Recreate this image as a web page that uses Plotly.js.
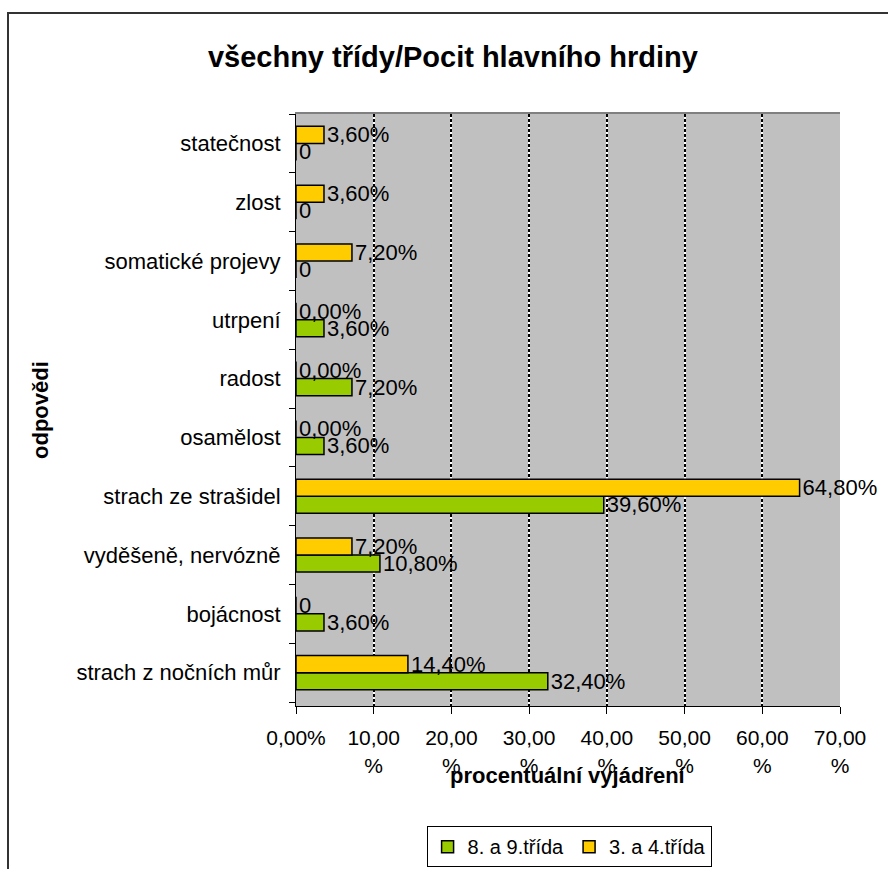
<!DOCTYPE html>
<html>
<head>
<meta charset="utf-8">
<script src="https://cdn.plot.ly/plotly-3.0.1.min.js"></script>
<style>
html,body{margin:0;padding:0;background:#fff;}
#frame{position:absolute;left:7px;top:12px;width:1000px;height:1000px;border-left:2px solid #333;border-top:2px solid #333;box-sizing:border-box;}
#chart{position:absolute;left:0;top:0;width:888px;height:869px;}
</style>
</head>
<body>
<div id="frame"></div>
<div id="chart"></div>
<script>
// categories listed from bottom to top (as in the source spreadsheet)
var categories = ["strach z nočních můr", "bojácnost", "vyděšeně, nervózně", "strach ze strašidel", "osamělost", "radost", "utrpení", "somatické projevy", "zlost", "statečnost"];
var seriesNames = ["8. a 9.třída", "3. a 4.třída"];
var valuesOlder = [32.4, 3.6, 10.8, 39.6, 3.6, 7.2, 3.6, 0, 0, 0];
var valuesYounger = [14.4, 0, 7.2, 64.8, 0, 0, 0, 7.2, 3.6, 3.6];
var labelsOlder = ["32,40%", "3,60%", "10,80%", "39,60%", "3,60%", "7,20%", "3,60%", "0", "0", "0"];
var labelsYounger = ["14,40%", "0", "7,20%", "64,80%", "0,00%", "0,00%", "0,00%", "7,20%", "3,60%", "3,60%"];
var tickVals = [0, 10, 20, 30, 40, 50, 60, 70];
var tickText = ["0,00%", "10,00<br>%", "20,00<br>%", "30,00<br>%", "40,00<br>%", "50,00<br>%", "60,00<br>%", "70,00<br>%"];
var chartTitle = "všechny třídy/Pocit hlavního hrdiny";
var xTitle = "procentuální vyjádření";
var yTitle = "odpovědi";

var FONT = "Liberation Sans, Arial, sans-serif";

function barTrace(name, vals, labels, color) {
  return {
    type: "bar", orientation: "h", name: name,
    y: categories, x: vals, text: labels,
    textposition: "outside", constraintext: "none", cliponaxis: false,
    textfont: {family: FONT, size: 22, color: "#000"},
    marker: {color: color, line: {color: "#000", width: 1.5}},
    hoverinfo: "x+y"
  };
}

var data = [
  barTrace(seriesNames[0], valuesOlder, labelsOlder, "#99CC00"),
  barTrace(seriesNames[1], valuesYounger, labelsYounger, "#FFCC00"),
  {type: "scatter", x: [0], y: [categories[0]], xaxis: "x2", mode: "markers", marker: {opacity: 0}, showlegend: false, hoverinfo: "skip"}
];

var layout = {
  width: 888, height: 869,
  margin: {l: 296, r: 48, t: 114, b: 163, autoexpand: false},
  paper_bgcolor: "rgba(0,0,0,0)",
  plot_bgcolor: "#C0C0C0",
  font: {family: FONT, size: 20, color: "#000"},
  barmode: "group", bargap: 0.42, bargroupgap: 0,
  title: {text: "<b>" + chartTitle + "</b>", font: {family: FONT, size: 29, color: "#000"},
          x: 0.51, xanchor: "center", y: 0.935, yanchor: "middle"},
  xaxis: {
    range: [0, 70], tickvals: tickVals, ticktext: tickText,
    showgrid: true, gridcolor: "#FFFFFF", gridwidth: 2,
    zeroline: false, showline: true, linecolor: "#000", linewidth: 1,
    ticks: "outside", ticklen: 7, tickcolor: "#000", tickwidth: 1,
    ticklabelstandoff: 6, automargin: false,
    tickfont: {family: FONT, size: 21, color: "#000"},
    fixedrange: true
  },
  xaxis2: {
    overlaying: "x", matches: "x", side: "top", range: [0, 70], tickvals: tickVals,
    showticklabels: false, ticks: "", automargin: false,
    showgrid: true, gridcolor: "#000000", gridwidth: 2, griddash: "3px,2px",
    zeroline: false, showline: true, linecolor: "#808080", linewidth: 2
  },
  yaxis: {
    type: "category", tickson: "boundaries", automargin: false,
    showgrid: false, zeroline: false, showline: true, linecolor: "#000", linewidth: 1,
    ticks: "outside", ticklen: 6, tickcolor: "#000",
    ticklabelstandoff: 10,
    tickfont: {family: FONT, size: 22, color: "#000"},
    fixedrange: true
  },
  annotations: [
    {text: "<b>" + xTitle + "</b>", xref: "paper", yref: "paper", x: 0.5, y: -0.1166,
     xanchor: "center", yanchor: "middle", showarrow: false,
     font: {family: FONT, size: 22, color: "#000"}},
    {text: "<b>" + yTitle + "</b>", xref: "paper", yref: "paper", x: -0.4706, y: 0.5,
     xanchor: "center", yanchor: "middle", showarrow: false, textangle: -90,
     font: {family: FONT, size: 22, color: "#000"}}
  ],
  showlegend: true,
  legend: {
    orientation: "h", x: 0.502, xanchor: "center", y: -0.203, yanchor: "top",
    bgcolor: "#FFFFFF", bordercolor: "#000", borderwidth: 1,
    font: {family: FONT, size: 20, color: "#000"},
    traceorder: "normal", itemwidth: 30
  }
};

Plotly.newPlot("chart", data, layout, {displayModeBar: false, staticPlot: true});
</script>
</body>
</html>
